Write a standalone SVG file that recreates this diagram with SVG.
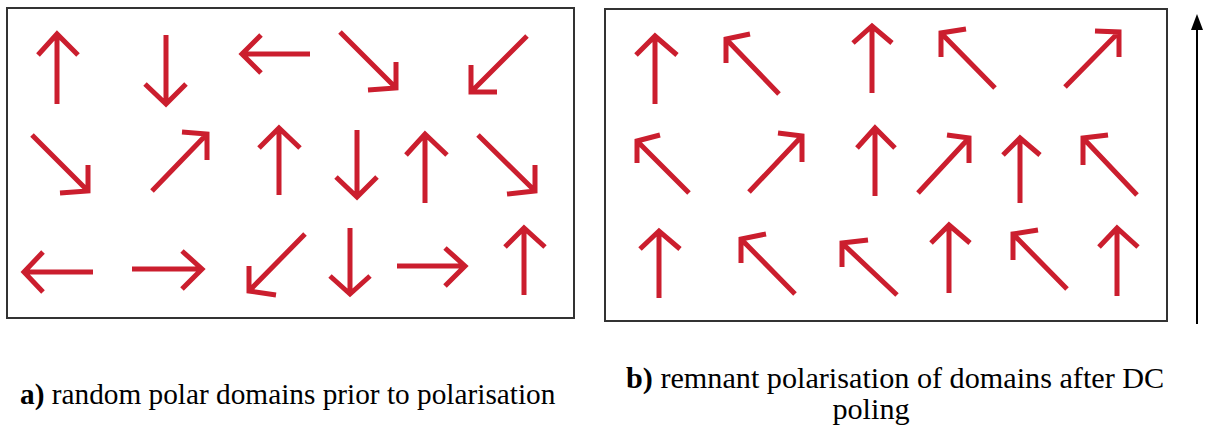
<svg xmlns="http://www.w3.org/2000/svg" width="1206" height="430" viewBox="0 0 1206 430">
<style>
.frame{fill:none;stroke:#333;stroke-width:2}
.a{fill:none;stroke:#cb1e2e;stroke-width:5;stroke-linecap:butt;stroke-linejoin:miter}
</style>
<rect width="1206" height="430" fill="#fff"/>
<g id="panel-a">
<rect class="frame" x="7" y="8" width="567" height="310"/>
<path class="a" d="M57 104L57 34M38 55L57 34L78 55"/>
<path class="a" d="M166 35L166 104M145 84L166 104L186 84"/>
<path class="a" d="M310 54L242 54M261 35L242 54L261 73"/>
<path class="a" d="M340 32L396 88M368 90L396 88L396 62"/>
<path class="a" d="M527 36L471 92M471 65L471 92L497 92"/>
<path class="a" d="M32 135L88 191M88 165L88 191L60 193"/>
<path class="a" d="M152 191L207 134M182 132L207 134L207 160"/>
<path class="a" d="M279 195L279 128M259 148L279 128L300 148"/>
<path class="a" d="M357 130L357 197M336 177L357 197L377 177"/>
<path class="a" d="M425 203L425 134M406 155L425 134L447 155"/>
<path class="a" d="M478 135L535 191M535 165L535 191L507 194"/>
<path class="a" d="M93 272L24 272M43 252L24 272L43 292"/>
<path class="a" d="M132 269L202 269M182 251L202 269L182 289"/>
<path class="a" d="M305 234L249 291M249 266L249 291L276 295"/>
<path class="a" d="M350 228L350 294M330 276L350 294L370 276"/>
<path class="a" d="M397 266L465 266M445 248L465 266L445 286"/>
<path class="a" d="M524 295L524 228M505 247L524 228L545 247"/>
</g>
<g id="panel-b">
<rect class="frame" x="605" y="9" width="562" height="312"/>
<path class="a" d="M655 104L655 36M636 55L655 36L677 55"/>
<path class="a" d="M779 94L726 39M750 34L726 39L726 63"/>
<path class="a" d="M872 93L872 26M853 43L872 26L892 43"/>
<path class="a" d="M995 88L941 33M966 29L941 33L941 57"/>
<path class="a" d="M1065 87L1119 32M1095 31L1119 32L1119 57"/>
<path class="a" d="M689 193L637 141M660 135L637 141L637 163"/>
<path class="a" d="M749 192L802 136M778 133L802 136L802 162"/>
<path class="a" d="M875 196L875 128M857 148L875 128L895 148"/>
<path class="a" d="M918 193L969 138M947 135L969 138L969 163"/>
<path class="a" d="M1020 203L1020 138M1003 155L1020 138L1040 155"/>
<path class="a" d="M1137 195L1083 138M1108 135L1083 138L1083 165"/>
<path class="a" d="M659 298L659 231M640 249L659 231L680 249"/>
<path class="a" d="M795 294L741 239M766 234L741 239L741 263"/>
<path class="a" d="M897 295L842 243M868 240L842 243L842 267"/>
<path class="a" d="M949 293L949 225M931 243L949 225L970 243"/>
<path class="a" d="M1067 289L1013 234M1038 230L1013 234L1013 260"/>
<path class="a" d="M1117 296L1117 228M1099 247L1117 228L1138 247"/>
</g>
<g id="field-arrow">
<line x1="1197" y1="28" x2="1197" y2="324" stroke="#000" stroke-width="2"/>
<polygon points="1197,14 1191,30 1203,30" fill="#000"/>
</g>
<g id="captions" font-family="'Liberation Serif','DejaVu Serif',serif" fill="#000">
<text x="20" y="404" font-size="29.3"><tspan font-weight="bold">a)</tspan> random polar domains prior to polarisation</text>
<text x="626" y="388" font-size="30.2"><tspan font-weight="bold">b)</tspan> remnant polarisation of domains after DC</text>
<text x="871" y="419" font-size="30.2" text-anchor="middle">poling</text>
</g>
</svg>
